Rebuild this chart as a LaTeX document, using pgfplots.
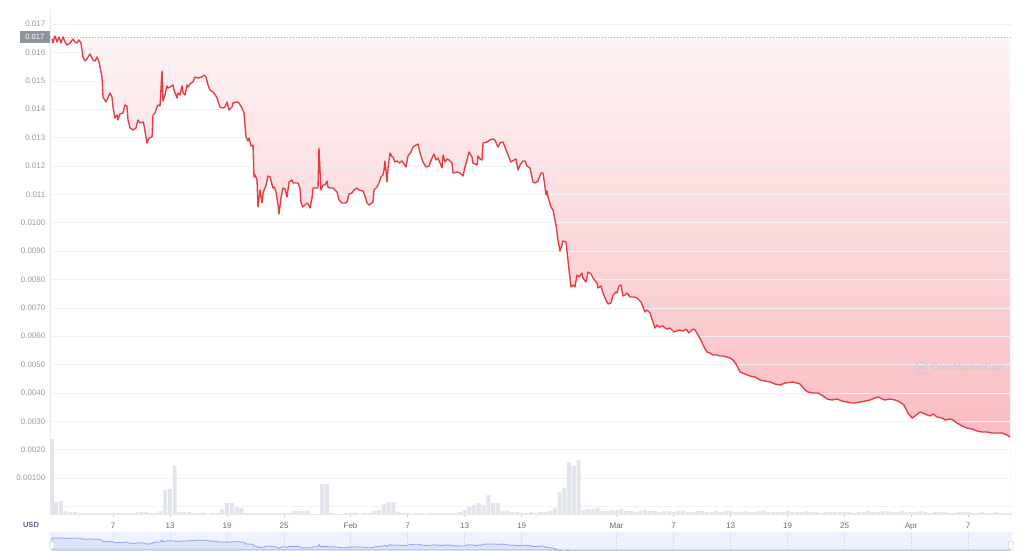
\documentclass[border=0pt]{standalone}
\usepackage{pgfplots}
\pgfplotsset{compat=1.18}
\usepackage{pgfplotstable}
\usepackage{fontspec}
\setmainfont{Liberation Sans}
\definecolor{cmcred}{HTML}{EA3943}
\definecolor{ylab}{HTML}{939BAB}
\definecolor{xlab}{HTML}{656D7C}
\definecolor{gridc}{HTML}{F1F2F5}
\definecolor{volc}{HTML}{E2E5EC}
\definecolor{navbg}{HTML}{EEF2FD}
\definecolor{navfill}{HTML}{DCE4FC}
\definecolor{navline}{HTML}{8EA2F1}
\definecolor{navgrid}{HTML}{C9D3F0}
\definecolor{shadetop}{HTML}{FEF4F5}
\definecolor{shadebot}{HTML}{F8B3B8}
\definecolor{wm}{HTML}{C5CCDA}
\definecolor{basec}{HTML}{A3A9B3}
\definecolor{pricebox}{HTML}{8E949E}
\definecolor{usdc}{HTML}{58667E}
\definecolor{axc}{HTML}{E8EAEF}
\definecolor{tickc}{HTML}{C5CAD3}

\pgfplotstableread{
d p
-0.42 0.016473
-0.32 0.016332
-0.11 0.016578
0.11 0.016367
0.32 0.016543
0.53 0.016332
0.74 0.016543
0.95 0.016367
1.16 0.016261
1.47 0.016332
1.79 0.016473
2.00 0.016367
2.21 0.016332
2.42 0.016438
2.63 0.016332
2.84 0.015839
3.05 0.015698
3.26 0.015768
3.58 0.015944
3.89 0.015733
4.11 0.015698
4.32 0.015839
4.53 0.015662
4.84 0.015134
4.95 0.014429
5.26 0.014253
5.47 0.014394
5.68 0.014570
5.89 0.014429
6.00 0.014077
6.21 0.013689
6.42 0.013795
6.53 0.013619
6.74 0.013830
7.05 0.013865
7.26 0.014147
7.47 0.014112
7.58 0.013619
7.79 0.013337
8.11 0.013266
8.42 0.013337
8.63 0.013619
8.84 0.013513
9.16 0.013548
9.26 0.013443
9.47 0.013020
9.58 0.012808
9.79 0.012984
10.11 0.013020
10.21 0.013795
10.42 0.013865
10.63 0.014077
10.74 0.014147
10.95 0.014112
11.16 0.015345
11.26 0.014288
11.47 0.014500
11.68 0.014817
11.79 0.014746
12.00 0.014782
12.32 0.014852
12.42 0.014676
12.74 0.014394
12.84 0.014570
13.05 0.014500
13.26 0.014817
13.37 0.014570
13.58 0.014500
13.79 0.014852
13.89 0.014782
14.21 0.014922
14.42 0.014958
14.63 0.015134
14.95 0.015099
15.37 0.015134
15.58 0.015204
15.79 0.015134
16.00 0.014852
16.21 0.014676
16.53 0.014605
16.84 0.014464
16.95 0.014394
17.26 0.014077
17.58 0.014042
17.79 0.014077
18.00 0.014253
18.21 0.013971
18.53 0.014077
18.63 0.014218
19.05 0.014253
19.26 0.014218
19.58 0.014042
19.79 0.013865
20.00 0.013020
20.21 0.012879
20.32 0.012984
20.53 0.012703
20.74 0.012738
20.84 0.011610
20.95 0.011681
21.16 0.011505
21.26 0.010553
21.47 0.011152
21.68 0.010694
21.79 0.011047
22.11 0.011328
22.32 0.011646
22.53 0.011610
22.84 0.011223
22.95 0.011258
23.16 0.011082
23.37 0.010624
23.47 0.010307
23.68 0.010870
23.89 0.011223
24.11 0.011187
24.32 0.010906
24.53 0.011434
24.84 0.011505
24.95 0.011399
25.26 0.011399
25.47 0.011399
25.68 0.011223
25.79 0.010694
26.00 0.010553
26.21 0.010624
26.42 0.010694
26.53 0.010659
26.74 0.010518
26.95 0.010870
27.05 0.011223
27.47 0.011223
27.58 0.011223
27.68 0.012632
27.89 0.011152
28.11 0.011328
28.32 0.011328
28.53 0.011469
28.63 0.011258
28.84 0.011223
29.16 0.011223
29.58 0.011082
29.79 0.010800
30.11 0.010694
30.42 0.010694
30.63 0.010729
30.84 0.011011
31.16 0.011047
31.37 0.011152
31.68 0.011223
31.89 0.011152
32.32 0.011117
32.53 0.010941
32.74 0.010694
32.95 0.010624
33.37 0.010729
33.47 0.011152
33.79 0.011258
34.00 0.011399
34.21 0.011610
34.42 0.011681
34.53 0.011857
34.63 0.012174
34.84 0.011434
34.95 0.011927
35.16 0.012456
35.37 0.012315
35.47 0.012315
35.68 0.012139
35.89 0.012174
36.11 0.012104
36.42 0.012174
36.63 0.012068
36.84 0.011963
37.05 0.012350
37.37 0.012491
37.58 0.012667
37.89 0.012738
38.11 0.012773
38.32 0.012456
38.63 0.012139
38.95 0.011963
39.26 0.011998
39.58 0.012280
39.79 0.012421
40.00 0.012209
40.21 0.012280
40.42 0.012104
40.63 0.011927
40.74 0.012385
40.95 0.012139
41.16 0.012245
41.37 0.012209
41.68 0.012104
41.79 0.011751
42.21 0.011786
42.53 0.011751
42.84 0.011646
43.05 0.011963
43.26 0.012209
43.47 0.012491
43.79 0.012315
43.89 0.012104
44.32 0.012033
44.42 0.012350
44.63 0.012245
44.84 0.012209
44.95 0.012808
45.37 0.012844
45.68 0.012914
46.00 0.012949
46.21 0.012914
46.42 0.012738
46.53 0.012667
46.74 0.012808
47.05 0.012844
47.26 0.012667
47.58 0.012385
47.89 0.012139
48.21 0.012209
48.42 0.012245
48.63 0.011857
48.84 0.012033
49.16 0.012174
49.37 0.012174
49.58 0.011998
49.89 0.011927
50.21 0.011434
50.42 0.011399
50.74 0.011469
51.05 0.011751
51.26 0.011751
51.37 0.011505
51.58 0.010976
51.68 0.011117
51.79 0.010906
52.11 0.010553
52.32 0.010447
52.63 0.009919
52.84 0.009390
53.05 0.009003
53.26 0.009214
53.37 0.009355
53.68 0.009320
53.89 0.008686
54.00 0.008333
54.21 0.007734
54.42 0.007805
54.63 0.007734
54.84 0.008157
55.05 0.008087
55.37 0.008228
55.47 0.008051
55.79 0.007910
56.00 0.008263
56.32 0.008192
56.53 0.008051
56.95 0.007875
57.05 0.007699
57.37 0.007769
57.58 0.007523
57.89 0.007276
58.11 0.007135
58.42 0.007170
58.63 0.007452
58.95 0.007558
59.05 0.007523
59.26 0.007769
59.47 0.007805
59.68 0.007417
59.89 0.007452
60.11 0.007523
60.42 0.007382
60.84 0.007382
61.16 0.007347
61.58 0.007206
61.79 0.007030
62.00 0.006853
62.21 0.006924
62.53 0.006818
62.84 0.006501
63.05 0.006290
63.26 0.006395
63.47 0.006325
63.89 0.006360
64.11 0.006290
64.32 0.006254
64.63 0.006290
65.05 0.006149
65.37 0.006184
65.58 0.006219
66.00 0.006184
66.32 0.006254
66.63 0.006113
67.05 0.006254
67.26 0.006219
67.58 0.006043
68.00 0.005796
68.21 0.005620
68.53 0.005444
68.84 0.005409
69.16 0.005338
69.58 0.005338
69.89 0.005303
70.21 0.005303
70.63 0.005268
70.95 0.005233
71.26 0.005162
71.58 0.005021
72.00 0.004739
72.53 0.004669
73.05 0.004598
73.58 0.004563
74.11 0.004457
74.63 0.004422
75.16 0.004387
75.68 0.004316
76.21 0.004281
76.74 0.004352
77.58 0.004387
78.32 0.004316
78.84 0.004105
79.16 0.004034
79.68 0.003999
80.21 0.003999
80.74 0.003894
81.16 0.003788
81.68 0.003753
82.21 0.003788
82.74 0.003717
83.26 0.003682
83.79 0.003647
84.11 0.003647
84.63 0.003682
85.16 0.003717
85.68 0.003753
86.21 0.003823
86.53 0.003858
86.95 0.003788
87.26 0.003753
87.79 0.003788
88.32 0.003753
88.84 0.003682
89.26 0.003576
89.68 0.003295
90.11 0.003118
90.42 0.003189
90.95 0.003330
91.47 0.003259
92.00 0.003189
92.32 0.003259
92.74 0.003154
93.26 0.003118
93.58 0.003048
94.11 0.003083
94.42 0.003048
94.84 0.002942
95.37 0.002836
95.89 0.002766
96.42 0.002731
96.95 0.002660
97.47 0.002625
98.00 0.002625
98.53 0.002590
99.05 0.002590
99.58 0.002590
100.11 0.002519
100.42 0.002449
}\pricetable

\pgfplotstableread{
d v
-0.4 75
0 12
0.5 13
1 3
1.5 2
2 2
2.5 1
3 1
3.5 1
4 1
4.5 1
5 1
5.5 1
6 1
6.5 1
7 1
7.5 1
8 1
8.5 2
9 2
9.5 2
10 1
10.5 1
11 3
11.5 24
12 25
12.5 48
13 2
13.5 2
14 2
14.5 1
15 1
15.5 1
16 0
16.5 1
17 1
17.5 5
18 11
18.5 11
19 7
19.5 6
20 1
20.5 1
21 1
21.5 1
22 1
22.5 1
23 1
23.5 1
24 1
24.5 1
25 3
25.5 3
26 3
26.5 3
27 0
27.5 0
28 30
28.5 30
29 1
29.5 0
30 0
30.5 1
31 1
31.5 1
32 0
32.5 1
33 1
33.5 3
34 4
34.5 10
35 12
35.5 12
36 2
36.5 1
37 1
37.5 0
38 1
38.5 1
39 0
39.5 1
40 1
40.5 1
41 1
41.5 1
42 1
42.5 2
43 4
43.5 7
44 9
44.5 11
45 9
45.5 19
46 11
46.5 11
47 3
47.5 3
48 2
48.5 2
49 1
49.5 1
50 2
50.5 1
51 2
51.5 2
52 3
52.5 6
53 22
53.5 26
54 52
54.5 48
55 54
55.5 4
56 5
56.5 5
57 6
57.5 3
58 3
58.5 4
59 4
59.5 5
60 3
60.5 3
61 2
61.5 3
62 4
62.5 3
63 3
63.5 2
64 3
64.5 3
65 2
65.5 3
66 3
66.5 2
67 2
67.5 3
68 3
68.5 2
69 2
69.5 3
70 2
70.5 3
71 3
71.5 2
72 2
72.5 3
73 2
73.5 2
74 3
74.5 3
75 2
75.5 2
76 2
76.5 2
77 3
77.5 2
78 2
78.5 2
79 3
79.5 2
80 2
80.5 1
81 2
81.5 2
82 2
82.5 2
83 2
83.5 2
84 1
84.5 2
85 2
85.5 3
86 2
86.5 2
87 3
87.5 3
88 2
88.5 2
89 3
89.5 2
90 2
90.5 2
91 3
91.5 2
92 1
92.5 2
93 2
93.5 2
94 1
94.5 1
95 2
95.5 2
96 2
96.5 1
97 1
97.5 2
98 1
98.5 1
99 2
99.5 1
100 1
100.5 1
}\voltable

\begin{document}
\begin{tikzpicture}[font=\fontsize{8}{9.5}\selectfont]
\path[use as bounding box] (0,0) rectangle (1024pt,550pt);
% main price axis
\begin{axis}[
  name=main,
  at={(50pt,36pt)}, anchor=south west,
  scale only axis, width=962pt, height=504pt,
  xmin=-0.6316, xmax=100.63,
  ymin=-0.000264, ymax=0.017495,
  axis x line*=bottom, axis y line*=left,
  x axis line style={draw=axc, line width=0.5pt},
  y axis line style={draw=axc, line width=0.6pt},
  tick align=outside, major tick length=2.5pt,
  ytick style={draw=none},
  xtick style={draw=tickc, line width=0.6pt},
  ytick={0,0.001,0.002,0.003,0.004,0.005,0.006,0.007,0.008,0.009,0.010,0.011,0.012,0.013,0.014,0.015,0.016,0.017},
  yticklabels={,0.00100,0.0020,0.0030,0.0040,0.0050,0.0060,0.0070,0.0080,0.0090,0.0100,0.011,0.012,0.013,0.014,0.015,0.016,0.017},
  yticklabel style={text=ylab, anchor=east, inner sep=0pt, xshift=-2pt},
  xtick={6,12,18,24,31,37,43,49,59,65,71,77,83,90,96},
  xticklabels={7,13,19,25,Feb,7,13,19,Mar,7,13,19,25,Apr,7},
  xticklabel style={text=xlab, anchor=north, inner sep=0pt, text height=5.8pt, text depth=0pt, yshift=-6pt},
]
% gradient area between baseline and price line
\addplot[draw=none, top color=shadetop, bottom color=shadebot] coordinates {(-0.42,0.01654) (100.42,0.01654)} \closedcycle;
\addplot[fill=white, draw=none] table[x=d,y=p]{\pricetable} \closedcycle;
% horizontal grid
\addplot[draw=gridc, line width=0.6pt] coordinates {(-0.6316,0) (100.63,0)};
\addplot[draw=gridc, line width=0.6pt] coordinates {(-0.6316,0.001) (100.63,0.001)};
\addplot[draw=gridc, line width=0.6pt] coordinates {(-0.6316,0.002) (100.63,0.002)};
\addplot[draw=gridc, line width=0.6pt] coordinates {(-0.6316,0.003) (100.63,0.003)};
\addplot[draw=gridc, line width=0.6pt] coordinates {(-0.6316,0.004) (100.63,0.004)};
\addplot[draw=gridc, line width=0.6pt] coordinates {(-0.6316,0.005) (100.63,0.005)};
\addplot[draw=gridc, line width=0.6pt] coordinates {(-0.6316,0.006) (100.63,0.006)};
\addplot[draw=gridc, line width=0.6pt] coordinates {(-0.6316,0.007) (100.63,0.007)};
\addplot[draw=gridc, line width=0.6pt] coordinates {(-0.6316,0.008) (100.63,0.008)};
\addplot[draw=gridc, line width=0.6pt] coordinates {(-0.6316,0.009) (100.63,0.009)};
\addplot[draw=gridc, line width=0.6pt] coordinates {(-0.6316,0.010) (100.63,0.010)};
\addplot[draw=gridc, line width=0.6pt] coordinates {(-0.6316,0.011) (100.63,0.011)};
\addplot[draw=gridc, line width=0.6pt] coordinates {(-0.6316,0.012) (100.63,0.012)};
\addplot[draw=gridc, line width=0.6pt] coordinates {(-0.6316,0.013) (100.63,0.013)};
\addplot[draw=gridc, line width=0.6pt] coordinates {(-0.6316,0.014) (100.63,0.014)};
\addplot[draw=gridc, line width=0.6pt] coordinates {(-0.6316,0.015) (100.63,0.015)};
\addplot[draw=gridc, line width=0.6pt] coordinates {(-0.6316,0.016) (100.63,0.016)};
\addplot[draw=gridc, line width=0.6pt] coordinates {(-0.6316,0.017) (100.63,0.017)};
% dotted start-price baseline and price line
\addplot[draw=basec, line width=0.6pt, dash pattern=on 0.8pt off 2.2pt] coordinates {(-0.6316,0.01654) (100.63,0.01654)};
\addplot[draw=cmcred, line width=1.35pt, line join=round] table[x=d,y=p]{\pricetable};
\coordinate (pricelbl) at (axis cs:-0.6316,0.01654);
\coordinate (wmpos) at (axis cs:90.4,0.00488);
\end{axis}
% volume axis
\begin{axis}[
  at={(50pt,36pt)}, anchor=south west,
  scale only axis, width=962pt, height=100pt,
  xmin=-0.6316, xmax=100.63, ymin=0, ymax=100,
  hide axis, ybar, bar width=0.42,
]
\addplot[fill=volc, draw=none] table[x=d,y=v]{\voltable};
\end{axis}
% navigator
\begin{axis}[
  name=nav,
  at={(50pt,0pt)}, anchor=south west,
  scale only axis, width=962pt, height=18pt,
  xmin=-0.6316, xmax=100.63, ymin=0.0093, ymax=0.0201,
  axis background/.style={fill=navbg},
  axis line style={draw=none},
  tick style={draw=none},
  ytick=\empty,
  xtick={6,12,18,24,31,37,43,49,59,65,71,77,83,90,96},
  xticklabels={},
  xmajorgrids, grid style={draw=navgrid, line width=0.5pt, dash pattern=on 0.6pt off 1.6pt},
]
\addplot[fill=navfill, draw=navline, line width=0.8pt] table[x=d,y=p]{\pricetable} \closedcycle;
\end{axis}
% handles
\node[draw=gray!50, fill=white, rounded corners=1.5pt, minimum width=5pt, minimum height=8pt, inner sep=0pt] at (52pt,5pt) {};
\node[draw=gray!50, fill=white, rounded corners=1.5pt, minimum width=5pt, minimum height=8pt, inner sep=0pt] at (1011pt,5pt) {};
% current price label
\node[fill=pricebox, text=white, inner sep=0pt, minimum width=30pt, minimum height=12pt, anchor=east, font=\fontsize{7.5}{8}\selectfont] at (pricelbl) {0.017};
% USD
\node[text=usdc, font=\bfseries\fontsize{7.5}{9}\selectfont] at (31pt,25.5pt) {USD};
% watermark
\node[circle, draw=wm, line width=1.1pt, minimum size=12pt, inner sep=0pt, text=wm, font=\bfseries\fontsize{7}{7}\selectfont, anchor=west, opacity=0.9] (logo) at (wmpos) {M};
\node[anchor=west, text=wm, font=\bfseries\fontsize{9.8}{10}\selectfont, inner sep=0pt, opacity=0.9] at ([xshift=3pt]logo.east) {CoinMarketCap};
\end{tikzpicture}
\end{document}
